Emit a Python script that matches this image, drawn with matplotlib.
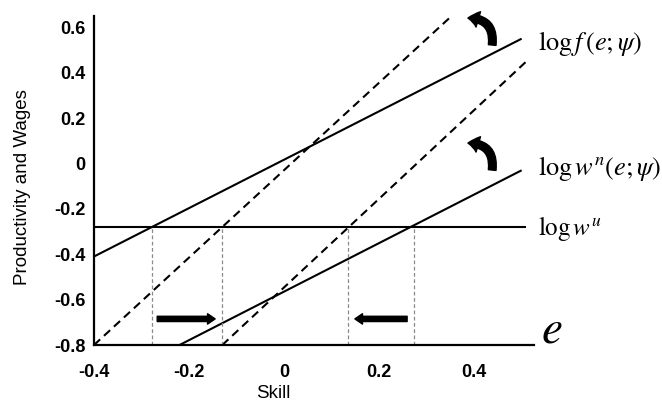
import numpy as np
import matplotlib
matplotlib.use('Agg')
import matplotlib.pyplot as plt
from matplotlib.patches import FancyArrowPatch

plt.rcParams['font.family'] = ['Liberation Sans', 'DejaVu Sans']
plt.rcParams['mathtext.fontset'] = 'stix'

# schedules: (x0, y0) -> (x1, y1) end points
log_f = ([-0.4, 0.5], [-0.41, 0.55])
log_wn = ([-0.22, 0.5], [-0.8, -0.03])
log_wu = ([-0.4, 0.51], [-0.28, -0.28])
f_shift = ([-0.4, 0.35], [-0.8, 0.645])
wn_shift = ([-0.13, 0.51], [-0.8, 0.45])

# cutoffs where schedules cross log w^u
cutoffs = [-0.278, -0.131, 0.135, 0.274]
wu_level = -0.28

# horizontal arrows (start x, end x, y)
shift_arrows = [(-0.267, -0.145, -0.685), (0.259, 0.149, -0.685)]
# curved arrows (start, end)
curl_arrows = [((0.438, 0.522), (0.387, 0.641)),
               ((0.438, -0.029), (0.387, 0.09))]

xticks = [-0.4, -0.2, 0, 0.2, 0.4]
xticklabels = ['-0.4', '-0.2', '0', '0.2', '0.4']
yticks = [-0.8, -0.6, -0.4, -0.2, 0, 0.2, 0.4, 0.6]
yticklabels = ['-0.8', '-0.6', '-0.4', '-0.2', '0', '0.2', '0.4', '0.6']

fig = plt.figure(figsize=(6.62, 4.09), dpi=100)
ax = fig.add_axes([94 / 662, (409 - 345) / 409, 440 / 662, 329 / 409])

lw = 1.5
for xs, ys in (log_f, log_wn, log_wu):
    ax.plot(xs, ys, color='black', lw=lw, solid_capstyle='butt', clip_on=False)
for xs, ys in (f_shift, wn_shift):
    ax.plot(xs, ys, color='black', lw=lw, dashes=(4, 2.5), clip_on=False)

for c in cutoffs:
    ax.plot([c, c], [-0.8, wu_level], color='#8a8a8a', lw=0.9, dashes=(3, 2))

for x0, x1, y in shift_arrows:
    ax.add_patch(FancyArrowPatch((x0, y), (x1, y),
                 arrowstyle='simple,head_width=0.75,head_length=0.55,tail_width=0.38',
                 mutation_scale=10, color='black', shrinkA=0, shrinkB=0))

for a, b in curl_arrows:
    ax.add_patch(FancyArrowPatch(a, b, connectionstyle='arc3,rad=0.55',
                 arrowstyle='simple,head_width=1.15,head_length=0.75,tail_width=0.55',
                 mutation_scale=10, color='black', shrinkA=0, shrinkB=0,
                 clip_on=False))

ax.text(0.535, 0.53, r'$\log f\,\left(e;\psi\right)$', fontsize=19,
        ha='left', va='center', clip_on=False)
ax.text(0.535, -0.02, r'$\log w^n\left(e;\psi\right)$', fontsize=19,
        ha='left', va='center', clip_on=False)
ax.text(0.535, -0.285, r'$\log w^u$', fontsize=18,
        ha='left', va='center', clip_on=False)
ax.text(0.54, -0.735, r'$e$', fontsize=34, ha='left', va='center', clip_on=False)

ax.set_xlim(-0.4, 0.526)
ax.set_ylim(-0.8, 0.65)
ax.set_xticks(xticks)
ax.set_xticklabels(xticklabels, fontsize=13, fontweight='bold')
ax.set_yticks(yticks)
ax.set_yticklabels(yticklabels, fontsize=13, fontweight='bold')
ax.tick_params(axis='x', length=0, pad=14)
ax.tick_params(axis='y', length=0, pad=6)

for s in ('top', 'right'):
    ax.spines[s].set_visible(False)
for s in ('left', 'bottom'):
    ax.spines[s].set_linewidth(1.6)
    ax.spines[s].set_color('black')

ax.set_xlabel('Skill', fontsize=13.5)
ax.xaxis.set_label_coords(179 / 440, -0.122)
fig.text(23 / 662, 1 - 187 / 409, 'Productivity and Wages', fontsize=13.5,
         rotation=90, ha='center', va='center')

fig.savefig('out.png', dpi=100)
